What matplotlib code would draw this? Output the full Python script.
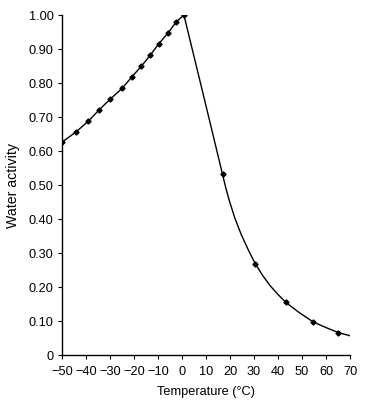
import matplotlib
matplotlib.use("Agg")
import matplotlib.pyplot as plt

# ── Data ─────────────────────────────────────────────────────────────────────

# measured points (markers)
marker_t = [-50, -44, -39, -34.5, -30, -25, -21, -17, -13.3, -9.6, -5.8, -2.5, 0.8,
            16.9, 30.5, 43.2, 54.7, 65.1]
marker_aw = [0.626, 0.657, 0.688, 0.721, 0.752, 0.784, 0.817, 0.849, 0.881, 0.916,
             0.947, 0.979, 1.0,
             0.531, 0.269, 0.155, 0.097, 0.066]

# extra vertices (above 0 °C)
curve_t = [8.9, 18.3, 19.8, 22.0, 24.7, 27.9, 33.5, 36.7, 40.0, 48.8, 59.9, 70.3]
curve_aw = [0.765, 0.490, 0.452, 0.403, 0.354, 0.305, 0.235, 0.204, 0.178,
            0.125, 0.081, 0.056]

x_ticks = list(range(-50, 71, 10))
y_ticks = [0, 0.1, 0.2, 0.3, 0.4, 0.5, 0.6, 0.7, 0.8, 0.9, 1.0]
y_labels = ["0", "0.10", "0.20", "0.30", "0.40", "0.50", "0.60", "0.70", "0.80",
            "0.90", "1.00"]

# ── Plot ─────────────────────────────────────────────────────────────────────

plt.rcParams["font.family"] = ["Liberation Sans", "DejaVu Sans"]
plt.rcParams["axes.unicode_minus"] = True

fig = plt.figure(figsize=(3.88, 4.05), dpi=100)
ax = fig.add_axes([62 / 388, 1 - 355 / 405, 288 / 388, 340 / 405])

line = sorted(zip(marker_t + curve_t, marker_aw + curve_aw))
ax.plot([p[0] for p in line], [p[1] for p in line], color="black", lw=1.0)
ax.plot(marker_t, marker_aw, linestyle="none", marker="D", ms=2.6,
        color="black")

ax.set_xlim(-50, 70)
ax.set_ylim(0, 1.0)
ax.set_xticks(x_ticks)
ax.set_xticklabels([str(v).replace("-", "\u2212") for v in x_ticks])
ax.set_yticks(y_ticks)
ax.set_yticklabels(y_labels)

for side in ("top", "right"):
    ax.spines[side].set_visible(False)
for side in ("left", "bottom"):
    ax.spines[side].set_linewidth(1.0)
ax.tick_params(direction="out", length=3, width=0.8, labelsize=9.2)
ax.tick_params(axis="x", pad=5)
ax.tick_params(axis="y", pad=3)

ax.set_xlabel("Temperature (\u00b0C)", fontsize=9.2, labelpad=6)
ax.set_ylabel("Water activity", fontsize=10.2, labelpad=6)

fig.savefig("out.png", dpi=100)
